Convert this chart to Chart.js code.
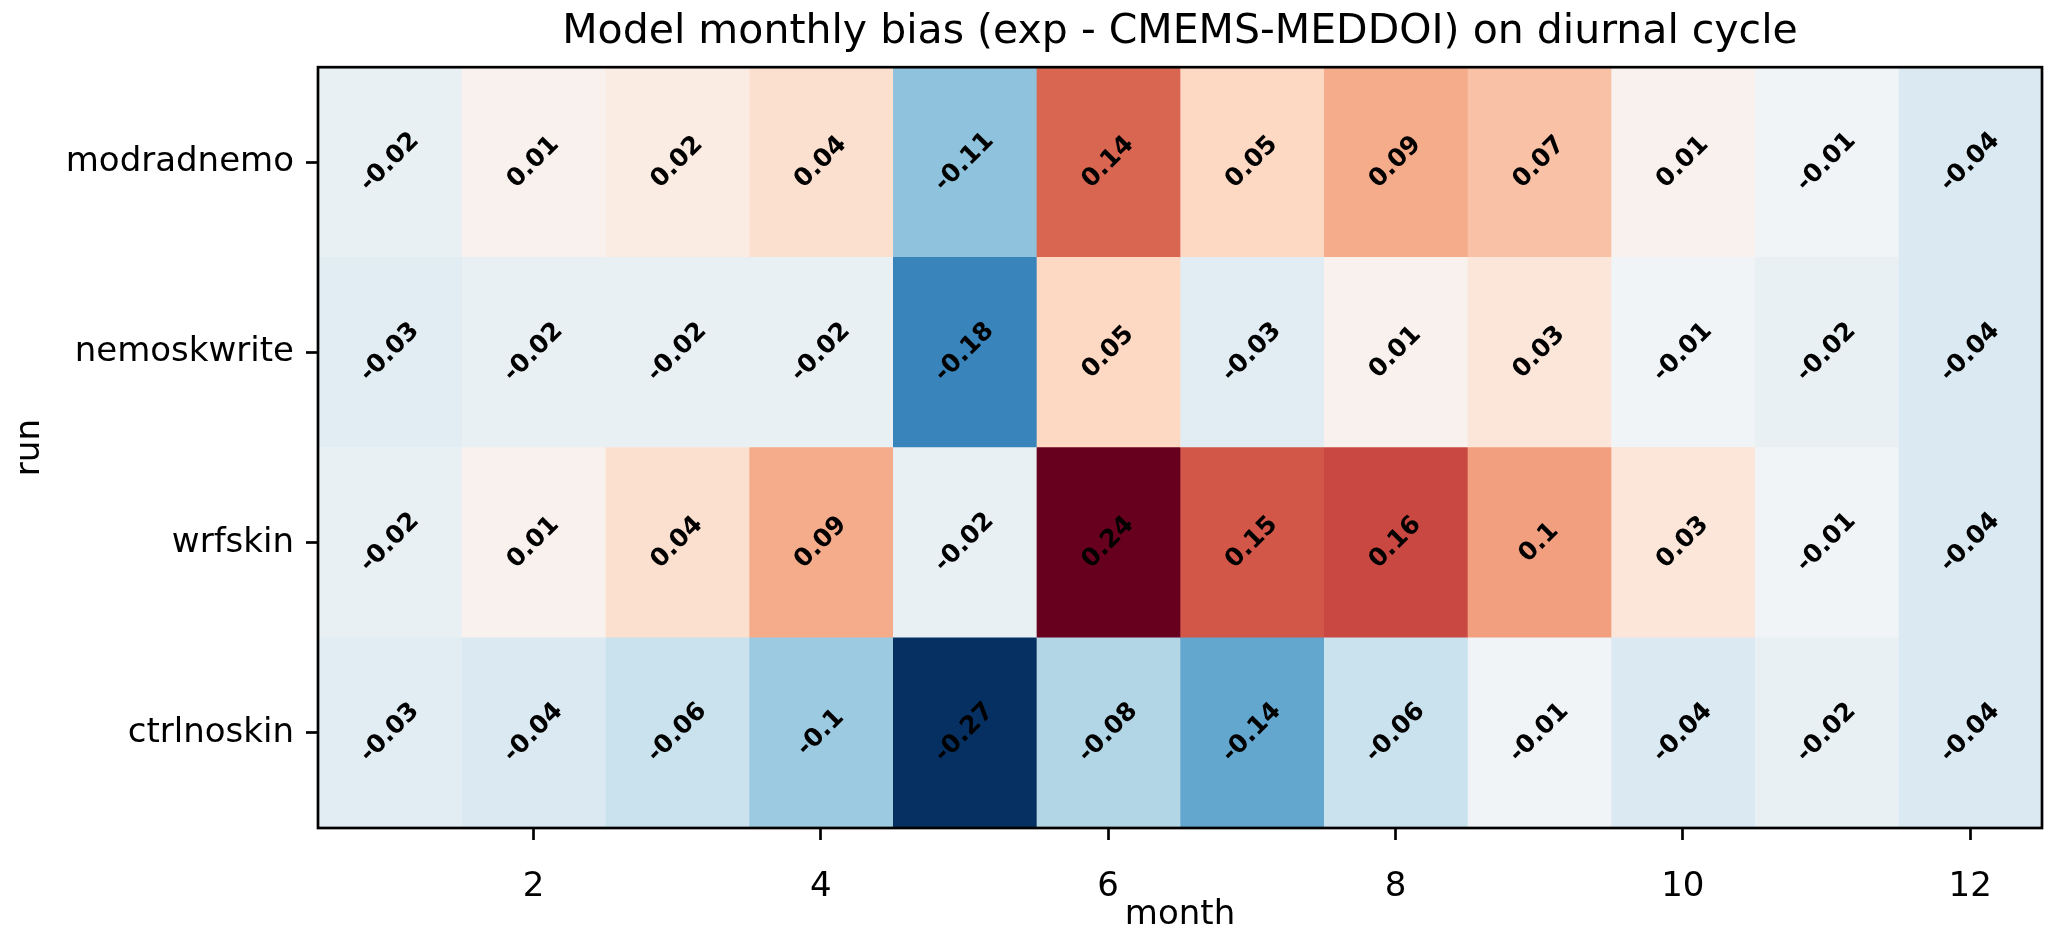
<!DOCTYPE html>
<html>
<head>
<meta charset="utf-8">
<script src="https://cdn.jsdelivr.net/npm/chart.js@4.4.1/dist/chart.umd.min.js"></script>
<style>
  html, body { margin: 0; padding: 0; background: #fff; }
  canvas { display: block; }
</style>
</head>
<body>
<canvas id="biasChart" width="2067" height="942"></canvas>
<script>
// data
const months = [1, 2, 3, 4, 5, 6, 7, 8, 9, 10, 11, 12];
const runs = ["modradnemo", "nemoskwrite", "wrfskin", "ctrlnoskin"];
const biasModradnemo = [-0.02, 0.01, 0.02, 0.04, -0.11, 0.14, 0.05, 0.09, 0.07, 0.01, -0.01, -0.04];
const biasNemoskwrite = [-0.03, -0.02, -0.02, -0.02, -0.18, 0.05, -0.03, 0.01, 0.03, -0.01, -0.02, -0.04];
const biasWrfskin = [-0.02, 0.01, 0.04, 0.09, -0.02, 0.24, 0.15, 0.16, 0.1, 0.03, -0.01, -0.04];
const biasCtrlnoskin = [-0.03, -0.04, -0.06, -0.1, -0.27, -0.08, -0.14, -0.06, -0.01, -0.04, -0.02, -0.04];
const xTicks = [2, 4, 6, 8, 10, 12];
const chartTitle = "Model monthly bias (exp - CMEMS-MEDDOI) on diurnal cycle";

const bias = [biasModradnemo, biasNemoskwrite, biasWrfskin, biasCtrlnoskin];

// matplotlib RdBu_r
const rdbuR = ["#053061", "#2166ac", "#4393c3", "#92c5de", "#d1e5f0", "#f7f7f7",
               "#fddbc7", "#f4a582", "#d6604d", "#b2182b", "#67001f"];

function hexToRgb(h) {
  return [parseInt(h.slice(1, 3), 16), parseInt(h.slice(3, 5), 16), parseInt(h.slice(5, 7), 16)];
}

function cmap(t) {
  t = Math.max(0, Math.min(1, t));
  const pos = t * (rdbuR.length - 1);
  const i = Math.min(Math.floor(pos), rdbuR.length - 2);
  const f = pos - i;
  const a = hexToRgb(rdbuR[i]), b = hexToRgb(rdbuR[i + 1]);
  const c = a.map((v, k) => Math.round(v + (b[k] - v) * f));
  return "rgb(" + c.join(",") + ")";
}

const allValues = bias.flat();
const vmin = Math.min(...allValues);
const vmax = Math.max(...allValues);

// diverging norm centred on zero
function norm(v) {
  return v < 0 ? 0.5 * (1 - v / vmin) : 0.5 + 0.5 * v / vmax;
}

const font = "DejaVu Sans";

// one floating-bar dataset per month column, bars overlap (grouped: false)
const datasets = months.map((m, j) => ({
  label: "month " + m,
  data: runs.map(() => [m - 0.5, m + 0.5]),
  backgroundColor: bias.map(row => cmap(norm(row[j]))),
  borderWidth: 0,
  grouped: false,
  barPercentage: 1,
  categoryPercentage: 1
}));

const cellLabels = {
  id: "cellLabels",
  afterDatasetsDraw(chart) {
    const ctx = chart.ctx;
    const xs = chart.scales.x, ys = chart.scales.y;
    ctx.save();
    ctx.font = "bold 25px '" + font + "'";
    ctx.fillStyle = "#000";
    ctx.textAlign = "center";
    ctx.textBaseline = "middle";
    bias.forEach((row, i) => {
      row.forEach((v, j) => {
        ctx.save();
        ctx.translate(xs.getPixelForValue(months[j]), ys.getPixelForValue(i));
        ctx.rotate(-Math.PI / 4);
        ctx.fillText(String(v), 0, 0);
        ctx.restore();
      });
    });
    ctx.restore();
  }
};

const frame = {
  id: "frame",
  afterDatasetsDraw(chart) {
    const { ctx, chartArea } = chart;
    ctx.save();
    ctx.strokeStyle = "#000";
    ctx.lineWidth = 2.7;
    ctx.strokeRect(chartArea.left, chartArea.top, chartArea.right - chartArea.left, chartArea.bottom - chartArea.top);
    ctx.restore();
  }
};

new Chart(document.getElementById("biasChart"), {
  type: "bar",
  data: { labels: runs, datasets: datasets },
  plugins: [cellLabels, frame],
  options: {
    indexAxis: "y",
    responsive: false,
    animation: false,
    devicePixelRatio: 1,
    layout: { padding: { top: 0, right: 25, left: 0, bottom: 0 } },
    plugins: {
      legend: { display: false },
      tooltip: { enabled: false },
      title: {
        display: true,
        text: chartTitle,
        fullSize: false,
        color: "#000",
        font: { family: font, size: 41, weight: "normal" },
        padding: { top: 8, bottom: 10 }
      }
    },
    scales: {
      x: {
        type: "linear",
        min: 0.5,
        max: 12.5,
        afterBuildTicks: s => { s.ticks = xTicks.map(v => ({ value: v })); },
        afterFit: s => { s.height = 114; },
        grid: { drawOnChartArea: false, drawTicks: true, tickLength: 12, tickWidth: 2.7, tickColor: "#000" },
        border: { display: false },
        ticks: { color: "#000", font: { family: font, size: 34 }, padding: 27, maxRotation: 0, autoSkip: false },
        title: { display: true, text: "month", color: "#000", font: { family: font, size: 34 }, padding: { top: 0, bottom: 6 } }
      },
      y: {
        type: "category",
        offset: true,
        afterFit: s => { s.width = 318; },
        grid: { offset: false, drawOnChartArea: false, drawTicks: true, tickLength: 12, tickWidth: 2.7, tickColor: "#000" },
        border: { display: false },
        ticks: { color: "#000", font: { family: font, size: 34 }, padding: 12 },
        title: { display: true, text: "run", color: "#000", font: { family: font, size: 34 }, padding: { top: 10, bottom: 0 } }
      }
    }
  }
});
</script>
</body>
</html>
